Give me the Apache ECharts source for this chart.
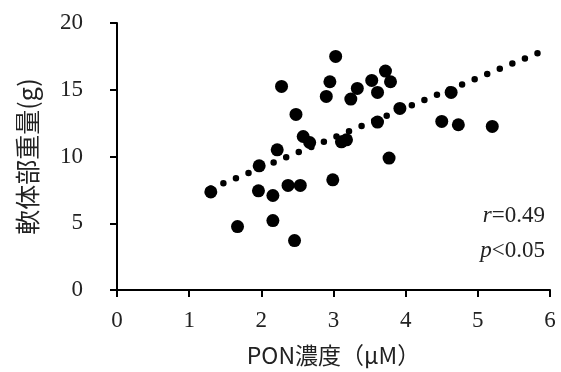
<!DOCTYPE html>
<html>
<head>
<meta charset="utf-8">
<script src="https://cdn.jsdelivr.net/npm/echarts@6/dist/echarts.min.js"></script>
<style>html,body{margin:0;padding:0;background:#fff}#c{width:561px;height:372px}</style>
</head>
<body>
<div id="c"></div>
<script>
// PON concentration (μM)
const ponX = [1.30,1.67,1.96,1.97,2.16,2.16,2.22,2.28,2.37,2.46,2.48,2.54,2.58,2.67,2.90,2.95,2.99,3.03,3.11,3.18,3.24,3.33,3.53,3.61,3.61,3.72,3.77,3.79,3.92,4.50,4.63,4.73,5.20];
// soft body weight (g)
const weightY = [7.35,4.75,7.43,9.30,7.08,5.20,10.50,15.25,7.83,3.70,13.15,7.83,11.50,11.05,14.50,15.60,8.25,17.50,11.10,11.25,14.30,15.10,15.70,12.58,14.80,16.40,9.88,15.60,13.60,12.63,14.80,12.38,12.25];
// linear trend line end points
const trendX = [1.30, 5.84];
const trendY = [7.60, 17.77];
const xTicks = [0, 6, 1];   // min, max, interval
const yTicks = [0, 20, 5];
const xName = 'PON濃度（μM）';
const yName = '軟体部重量(g)';
const statR = '=0.49';
const statP = '<0.05';

const fontFam = '"Liberation Serif", "Noto Sans CJK JP", serif';
const cjkFam = '"Noto Sans CJK JP", "Liberation Serif", sans-serif';
const chart = echarts.init(document.getElementById('c'));
chart.setOption({
  animation: false,
  backgroundColor: '#fff',
  grid: {left: 117, right: 11, top: 23, bottom: 82},
  xAxis: {
    type: 'value', min: xTicks[0], max: xTicks[1], interval: xTicks[2],
    name: xName, nameLocation: 'middle', nameGap: 54,
    nameTextStyle: {fontFamily: cjkFam, fontSize: 23, color: '#222'},
    axisLine: {show: true, lineStyle: {color: '#000', width: 2}},
    axisTick: {show: true, length: 7, lineStyle: {color: '#000', width: 2}},
    axisLabel: {margin: 19, fontFamily: fontFam, fontSize: 23, color: '#222'},
    splitLine: {show: false}
  },
  yAxis: {
    type: 'value', min: yTicks[0], max: yTicks[1], interval: yTicks[2],
    name: yName, nameLocation: 'middle', nameGap: 77, nameRotate: 90,
    nameTextStyle: {fontFamily: cjkFam, fontSize: 25, color: '#222'},
    axisLine: {show: true, lineStyle: {color: '#000', width: 2}},
    axisTick: {show: true, length: 7, lineStyle: {color: '#000', width: 2}},
    axisLabel: {margin: 34, fontFamily: fontFam, fontSize: 23, color: '#222'},
    splitLine: {show: false}
  },
  series: [
    {
      type: 'line', data: trendX.map((x, i) => [x, trendY[i]]),
      symbol: 'none', silent: true, z: 1,
      lineStyle: {color: '#000', width: 6.5, type: [0, 13.6], cap: 'round'}
    },
    {
      type: 'scatter', data: ponX.map((x, i) => [x, weightY[i]]),
      symbol: 'circle', symbolSize: 13, z: 2,
      itemStyle: {color: '#000', opacity: 1}
    }
  ],
  graphic: [
    {type: 'text', right: 16, top: 204, style: {
      text: '{i|r}' + statR, fill: '#222', font: '23px ' + fontFam,
      rich: {i: {fontStyle: 'italic', fontFamily: fontFam, fontSize: 23, fill: '#222'}}
    }},
    {type: 'text', right: 16, top: 239, style: {
      text: '{i|p}' + statP, fill: '#222', font: '23px ' + fontFam,
      rich: {i: {fontStyle: 'italic', fontFamily: fontFam, fontSize: 23, fill: '#222'}}
    }}
  ]
});
</script>
</body>
</html>
